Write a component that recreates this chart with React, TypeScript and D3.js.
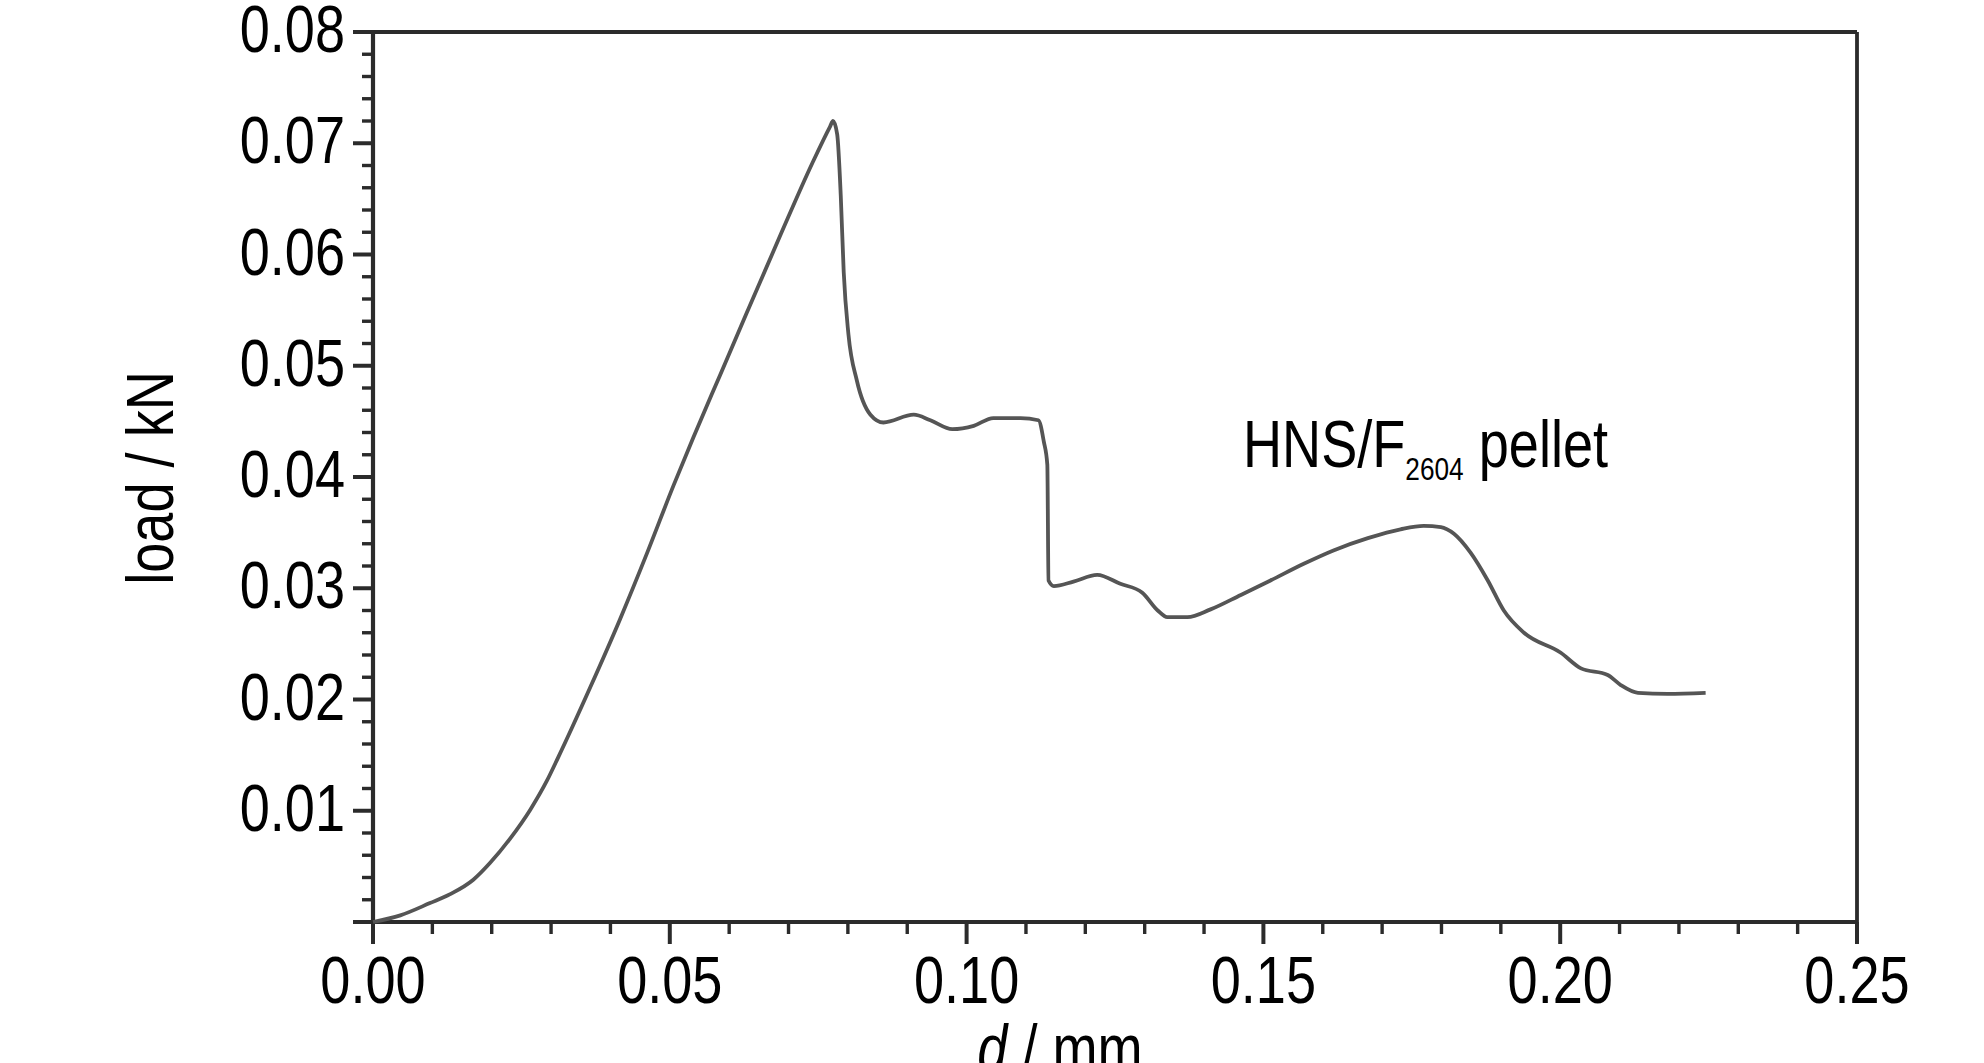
import { useEffect, useRef } from "react";
import * as d3 from "d3";

// displacement (mm) and load (kN)
const D_MM = [
  0.0, 0.0046, 0.0096, 0.013, 0.0169, 0.0197, 0.0231, 0.0265, 0.0293, 0.0312,
  0.0366, 0.0416, 0.0462, 0.0506, 0.054, 0.0585, 0.063, 0.0686, 0.074, 0.077,
  0.0775, 0.0782, 0.0788, 0.0793, 0.0801, 0.0815, 0.0838, 0.086, 0.0911, 0.0939,
  0.0976, 0.1012, 0.1045, 0.1091, 0.1121, 0.113, 0.1136, 0.1138, 0.1147, 0.118,
  0.122, 0.1259, 0.1296, 0.1322, 0.1338, 0.1372, 0.1411, 0.1462, 0.1512, 0.1568,
  0.1618, 0.1676, 0.1731, 0.177, 0.1799, 0.1821, 0.1849, 0.1878, 0.1905, 0.1939,
  0.2001, 0.2035, 0.208, 0.2102, 0.2131, 0.2181, 0.2245,
];
const LOAD_KN = [
  0.0, 0.0006, 0.0017, 0.0025, 0.0038, 0.0053, 0.0075, 0.0101, 0.0127, 0.0148,
  0.0211, 0.0272, 0.0332, 0.0392, 0.0436, 0.0492, 0.0548, 0.0617, 0.0682, 0.0715,
  0.072, 0.0708, 0.0653, 0.0584, 0.0528, 0.0487, 0.0456, 0.0449, 0.0456, 0.0451,
  0.0443, 0.0446, 0.0453, 0.0453, 0.0451, 0.0432, 0.0411, 0.0307, 0.0302, 0.0306,
  0.0312, 0.0304, 0.0296, 0.028, 0.0274, 0.0274, 0.0281, 0.0294, 0.0307, 0.0322,
  0.0334, 0.0345, 0.0353, 0.0356, 0.0355, 0.0349, 0.0332, 0.0307, 0.028, 0.026,
  0.0242, 0.0228, 0.0222, 0.0213, 0.0206, 0.0205, 0.0206,
];

const X_TICKS = [0, 0.05, 0.1, 0.15, 0.2, 0.25];
const Y_TICKS = [0.01, 0.02, 0.03, 0.04, 0.05, 0.06, 0.07, 0.08];

const W = 1984;
const H = 1063;
const FONT = "'Liberation Sans', Arial, sans-serif";
const AXIS = "#2b2b2b";
const NARROW = 0.82;

export default function App() {
  const ref = useRef<SVGSVGElement>(null);

  useEffect(() => {
    const svg = d3.select(ref.current);
    svg.selectAll("*").remove();

    const x = d3.scaleLinear().domain([0, 0.25]).range([373, 1857]);
    const y = d3.scaleLinear().domain([0, 0.08]).range([922, 32]);

    // frame: top and right
    svg.append("line")
      .attr("x1", x(0) - 20).attr("x2", x(0.25))
      .attr("y1", y(0.08)).attr("y2", y(0.08))
      .attr("stroke", AXIS).attr("stroke-width", 3.8);
    svg.append("line")
      .attr("x1", x(0.25)).attr("x2", x(0.25))
      .attr("y1", y(0.08)).attr("y2", y(0))
      .attr("stroke", AXIS).attr("stroke-width", 3.8);

    // y minor / major ticks
    d3.range(0, 0.0801, 0.002).forEach((v, i) => {
      const major = i % 5 === 0;
      svg.append("line")
        .attr("x1", x(0) - (major ? 20 : 11)).attr("x2", x(0))
        .attr("y1", y(v)).attr("y2", y(v))
        .attr("stroke", AXIS).attr("stroke-width", major ? 4 : 3.4);
    });

    // x minor / major ticks
    d3.range(0, 0.2501, 0.01).forEach((v, i) => {
      const major = i % 5 === 0;
      svg.append("line")
        .attr("x1", x(v)).attr("x2", x(v))
        .attr("y1", y(0)).attr("y2", y(0) + (major ? 22 : 12))
        .attr("stroke", AXIS).attr("stroke-width", major ? 4 : 3.4);
    });

    // axis lines
    svg.append("line")
      .attr("x1", x(0)).attr("x2", x(0))
      .attr("y1", y(0.08)).attr("y2", y(0))
      .attr("stroke", AXIS).attr("stroke-width", 4.2);
    svg.append("line")
      .attr("x1", x(0) - 20).attr("x2", x(0.25))
      .attr("y1", y(0)).attr("y2", y(0))
      .attr("stroke", AXIS).attr("stroke-width", 4.2);

    // tick labels
    Y_TICKS.forEach((v) => {
      svg.append("text")
        .attr("transform", `translate(${x(0) - 28},${y(v) + 20}) scale(${NARROW},1)`)
        .attr("text-anchor", "end")
        .attr("font-family", FONT).attr("font-size", 66)
        .attr("fill", "#000")
        .text(v.toFixed(2));
    });
    X_TICKS.forEach((v) => {
      svg.append("text")
        .attr("transform", `translate(${x(v)},1003) scale(${NARROW},1)`)
        .attr("text-anchor", "middle")
        .attr("font-family", FONT).attr("font-size", 66)
        .attr("fill", "#000")
        .text(v.toFixed(2));
    });

    // axis titles
    svg.append("text")
      .attr("transform", `translate(173,478) rotate(-90) scale(${NARROW},1)`)
      .attr("text-anchor", "middle")
      .attr("font-family", FONT).attr("font-size", 66)
      .text("load / kN");

    const xt = svg.append("text")
      .attr("transform", `translate(1060,1071) scale(${NARROW},1)`)
      .attr("text-anchor", "middle")
      .attr("font-family", FONT).attr("font-size", 66);
    xt.append("tspan").attr("font-style", "italic").text("d");
    xt.append("tspan").text(" / mm");

    // curve
    const pts = D_MM.map((d, i) => [d, LOAD_KN[i]] as [number, number]);
    const line = d3.line<[number, number]>()
      .x((d) => x(d[0]))
      .y((d) => y(d[1]))
      .curve(d3.curveMonotoneX);
    svg.append("path")
      .attr("d", line(pts))
      .attr("fill", "none")
      .attr("stroke", "#555")
      .attr("stroke-width", 3.8)
      .attr("stroke-linejoin", "round");

    // sample label
    const lab = svg.append("text")
      .attr("transform", `translate(1243,467) scale(${NARROW},1)`)
      .attr("font-family", FONT).attr("font-size", 66)
      .attr("fill", "#000");
    lab.append("tspan").text("HNS/F");
    lab.append("tspan").attr("font-size", 32).attr("dy", 13).text("2604");
    lab.append("tspan").attr("dy", -13).text(" pellet");
  }, []);

  return (
    <svg
      ref={ref}
      width={W}
      height={H}
      style={{ position: "absolute", left: 0, top: 0, background: "#fff" }}
    />
  );
}
